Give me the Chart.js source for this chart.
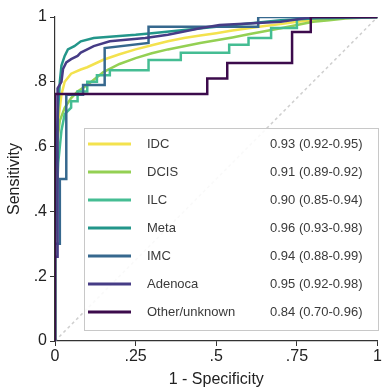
<!DOCTYPE html>
<html>
<head>
<meta charset="utf-8">
<script src="https://cdn.jsdelivr.net/npm/chart.js@4"></script>
<style>
  html, body { margin: 0; padding: 0; background: #fff; }
  #wrap { width: 383px; height: 389px; }
</style>
</head>
<body>
<div id="wrap"><canvas id="myChart" width="383" height="389"></canvas></div>
<script>
// ROC curves by histologic subtype
const labels = ['IDC', 'DCIS', 'ILC', 'Meta', 'IMC', 'Adenoca', 'Other/unknown'];
const aucText = ['0.93 (0.92-0.95)', '0.91 (0.89-0.92)', '0.90 (0.85-0.94)', '0.96 (0.93-0.98)',
                 '0.94 (0.88-0.99)', '0.95 (0.92-0.98)', '0.84 (0.70-0.96)'];
const colors = ['#f3e24e', '#94d053', '#45bd93', '#23968a', '#36688e', '#463c86', '#3c0b4c'];

const idcFpr = [0, 0, 0.005, 0.01, 0.02, 0.03, 0.05, 0.08, 0.1, 0.15, 0.2, 0.25, 0.3, 0.35, 0.4, 0.45, 0.5, 0.55, 0.6, 0.65, 0.7, 0.75, 0.8, 0.85, 0.9, 1];
const idcTpr = [0, 0.3, 0.55, 0.68, 0.76, 0.8, 0.825, 0.838, 0.845, 0.868, 0.885, 0.9, 0.913, 0.925, 0.935, 0.943, 0.95, 0.958, 0.965, 0.972, 0.978, 0.985, 0.99, 0.995, 0.998, 1];

const dcisFpr = [0, 0, 0.005, 0.015, 0.03, 0.05, 0.07, 0.1, 0.15, 0.2, 0.25, 0.3, 0.35, 0.4, 0.45, 0.5, 0.55, 0.6, 0.65, 0.7, 0.75, 0.8, 0.85, 0.9, 1];
const dcisTpr = [0, 0.4, 0.6, 0.68, 0.72, 0.75, 0.77, 0.79, 0.83, 0.855, 0.873, 0.888, 0.9, 0.91, 0.92, 0.928, 0.937, 0.947, 0.956, 0.965, 0.975, 0.985, 0.99, 0.995, 1];

const ilcFpr = [0, 0, 0.01, 0.02, 0.03, 0.05, 0.05, 0.07, 0.07, 0.1, 0.1, 0.13, 0.13, 0.17, 0.17, 0.29, 0.29, 0.39, 0.39, 0.54, 0.54, 0.6, 0.6, 0.67, 0.67, 0.75, 0.75, 1];
const ilcTpr = [0, 0.3, 0.55, 0.65, 0.7, 0.72, 0.74, 0.74, 0.77, 0.77, 0.8, 0.8, 0.82, 0.82, 0.836, 0.836, 0.867, 0.867, 0.89, 0.89, 0.914, 0.914, 0.935, 0.935, 0.966, 0.966, 1, 1];

const metaFpr = [0, 0, 0.01, 0.015, 0.02, 0.03, 0.04, 0.06, 0.08, 0.12, 0.18, 0.25, 0.3, 0.4, 0.5, 0.6, 0.7, 0.8, 1];
const metaTpr = [0, 0.5, 0.72, 0.8, 0.85, 0.88, 0.9, 0.91, 0.925, 0.935, 0.94, 0.945, 0.95, 0.96, 0.97, 0.98, 0.99, 0.995, 1];

const imcFpr = [0, 0, 0.015, 0.015, 0.035, 0.035, 0.087, 0.087, 0.154, 0.154, 0.29, 0.29, 0.63, 0.63, 1];
const imcTpr = [0, 0.3, 0.3, 0.5, 0.5, 0.76, 0.76, 0.79, 0.79, 0.904, 0.92, 0.97, 0.97, 1, 1];

const adenoFpr = [0, 0, 0.008, 0.008, 0.02, 0.025, 0.035, 0.05, 0.07, 0.08, 0.1, 0.12, 0.17, 0.22, 0.28, 0.35, 0.4, 0.45, 0.51, 0.6, 0.7, 0.8, 1];
const adenoTpr = [0, 0.26, 0.26, 0.78, 0.8, 0.84, 0.86, 0.87, 0.88, 0.89, 0.9, 0.91, 0.925, 0.93, 0.935, 0.945, 0.955, 0.965, 0.975, 0.98, 0.985, 1, 1];

const otherFpr = [0, 0, 0.472, 0.472, 0.534, 0.534, 0.735, 0.735, 0.793, 0.793, 1];
const otherTpr = [0, 0.762, 0.762, 0.81, 0.81, 0.858, 0.858, 0.954, 0.954, 1, 1];

const xTickLabels = ['0', '.25', '.5', '.75', '1'];
const yTickLabels = ['0', '.2', '.4', '.6', '.8', '1'];

const curves = [
  [idcFpr, idcTpr], [dcisFpr, dcisTpr], [ilcFpr, ilcTpr], [metaFpr, metaTpr],
  [imcFpr, imcTpr], [adenoFpr, adenoTpr], [otherFpr, otherTpr]
];

function toPoints(xs, ys) {
  return xs.map((x, i) => ({ x: x, y: ys[i] }));
}

const datasets = curves.map((c, i) => ({
  label: labels[i],
  data: toPoints(c[0], c[1]),
  borderColor: colors[i],
  borderWidth: 2.5,
  pointRadius: 0,
  showLine: true,
  fill: false,
  tension: 0,
  order: labels.length - i
}));

// reference line
datasets.push({
  label: 'chance',
  data: toPoints([0, 1], [0, 1]),
  borderColor: '#cfcfcf',
  borderWidth: 1.5,
  borderDash: [3, 3],
  pointRadius: 0,
  showLine: true,
  order: 20
});

// legend box with AUC column, drawn inside the plot
const rocLegend = {
  id: 'rocLegend',
  afterDatasetsDraw(chart) {
    const ctx = chart.ctx;
    ctx.save();
    ctx.fillStyle = 'rgba(255,255,255,0.88)';
    ctx.strokeStyle = '#c8c8c8';
    ctx.lineWidth = 1;
    ctx.fillRect(84, 128, 294, 202);
    ctx.strokeRect(84.5, 128.5, 294, 202);
    ctx.font = '13px "Liberation Sans", Arial, sans-serif';
    ctx.textBaseline = 'middle';
    labels.forEach((lab, i) => {
      const y = 144 + i * 28;
      ctx.strokeStyle = colors[i];
      ctx.lineWidth = 3;
      ctx.beginPath();
      ctx.moveTo(88, y);
      ctx.lineTo(131, y);
      ctx.stroke();
      ctx.fillStyle = '#3a3a3a';
      ctx.textAlign = 'left';
      ctx.fillText(lab, 147, y);
      ctx.fillText(aucText[i], 270, y);
    });
    ctx.restore();
  }
};

const tickFont = { family: '"Liberation Sans", Arial, sans-serif', size: 16 };

const config = {
  type: 'scatter',
  data: { datasets: datasets },
  options: {
    responsive: false,
    animation: false,
    layout: { padding: { top: 17, right: 4, left: 0, bottom: 0 } },
    plugins: { legend: { display: false }, tooltip: { enabled: false } },
    scales: {
      x: {
        type: 'linear', min: 0, max: 1,
        afterFit: (s) => { s.height = 48; },
        afterBuildTicks: (s) => { s.ticks = xTickLabels.map((t, i) => ({ value: i * 0.25 })); },
        ticks: { color: '#222', font: tickFont, padding: 1, maxRotation: 0,
                 callback: (v, i) => xTickLabels[i] },
        grid: { drawOnChartArea: false, drawTicks: true, tickLength: 5, color: '#333' },
        border: { display: true, color: '#333', width: 1.2 },
        title: { display: true, text: '1 - Specificity', color: '#222', font: tickFont, padding: { top: 0, bottom: 0 } }
      },
      y: {
        type: 'linear', min: 0, max: 1,
        afterFit: (s) => { s.width = 55; },
        afterBuildTicks: (s) => { s.ticks = yTickLabels.map((t, i) => ({ value: i * 0.2 })); },
        ticks: { color: '#222', font: tickFont, padding: 3,
                 callback: (v, i) => yTickLabels[i] },
        grid: { drawOnChartArea: false, drawTicks: true, tickLength: 5, color: '#333' },
        border: { display: true, color: '#333', width: 1.2 },
        title: { display: true, text: 'Sensitivity', color: '#222', font: tickFont, padding: { top: 5, bottom: 0 } }
      }
    }
  },
  plugins: [rocLegend]
};

const myChart = new Chart(document.getElementById('myChart'), config);
</script>
</body>
</html>
